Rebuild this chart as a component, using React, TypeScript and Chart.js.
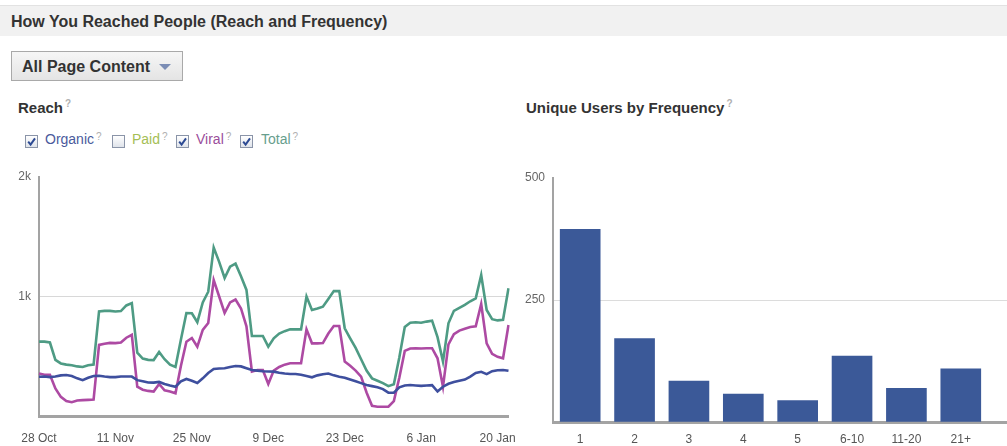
import React, { useEffect, useRef } from 'react';
import { Chart, registerables } from 'chart.js';

Chart.register(...registerables);

const FONT = '"Liberation Sans", Arial, sans-serif';

// ---- Reach (daily, starting 28 Oct) ----
const monthNames = ['Jan', 'Feb', 'Mar', 'Apr', 'May', 'Jun', 'Jul', 'Aug', 'Sep', 'Oct', 'Nov', 'Dec'];
const reachTickLabels = ['28 Oct', '11 Nov', '25 Nov', '9 Dec', '23 Dec', '6 Jan', '20 Jan'];

const organic = [
  329, 330, 325, 330, 340, 343, 335, 315, 300, 320,
  335, 337, 330, 325, 325, 330, 330, 330, 300, 290,
  280, 279, 285, 268, 255, 245, 290, 310, 295, 276,
  315, 360, 393, 398, 400, 410, 418, 415, 400, 385,
  380, 375, 372, 371, 362, 355, 352, 352, 345, 335,
  324, 340, 350, 355, 340, 329, 320, 305, 290, 275,
  260, 250, 240, 225, 195, 195, 240, 255, 259, 255,
  252, 255, 258, 205, 245, 270, 285, 295, 305, 330,
  360, 370, 350, 375, 383, 385, 378,
];

const viral = [
  355, 345, 345, 230, 160, 125, 115, 130, 133, 135,
  138, 595, 605, 612, 610, 615, 655, 680, 245, 220,
  210, 205, 268, 215, 205, 190, 420, 622, 653, 580,
  720, 778, 1138, 1000, 862, 950, 975, 900, 750, 371,
  385, 385, 268, 380, 410, 430, 441, 441, 441, 725,
  608, 608, 610, 690, 753, 753, 455, 420, 380, 330,
  197, 85, 78, 78, 78, 125, 320, 545, 565, 567,
  565, 567, 567, 483, 245, 600, 685, 715, 730, 745,
  750, 937, 608, 520, 495, 483, 762,
];

const total = [
  622, 622, 615, 470, 440, 430, 425, 415, 410, 425,
  430, 875, 880, 880, 875, 878, 925, 945, 530, 480,
  470, 468, 535, 475, 430, 410, 640, 862, 860, 785,
  950, 1040, 1410, 1290, 1155, 1250, 1275, 1170, 1055, 670,
  670, 670, 580, 650, 690, 710, 725, 725, 725, 1000,
  887, 900, 915, 980, 1045, 1045, 734, 650, 570, 475,
  380, 315, 295, 275, 250, 265, 490, 745, 780, 785,
  780, 790, 798, 660, 455, 776, 880, 905, 930, 960,
  985, 1180, 887, 810, 800, 805, 1069,
];

const dayLabels: string[] = organic.map((_, i) => {
  const d = new Date(Date.UTC(2012, 9, 28 + i));
  return `${d.getUTCDate()} ${monthNames[d.getUTCMonth()]}`;
});

// ---- Unique users by frequency ----
const freqLabels = ['1', '2', '3', '4', '5', '6-10', '11-20', '21+'];
const freqValues = [395, 171, 84, 57, 44, 135, 69, 109];

const C_ORGANIC = '#3e4f9e';
const C_VIRAL = '#ad4aa3';
const C_TOTAL = '#4e9b84';
const C_BAR = '#3b5998';

function Check({ x, y, checked }: { x: number; y: number; checked: boolean }) {
  return (
    <div
      style={{
        position: 'absolute',
        left: x,
        top: y,
        width: 11,
        height: 11,
        border: '1px solid #8a94a8',
        background: 'linear-gradient(#ffffff, #dfe3ea)',
      }}
    >
      {checked && (
        <svg width="11" height="11" style={{ position: 'absolute', left: 0, top: 0 }}>
          <path d="M2.2 5.6 L4.6 8.6 L9 2.4" stroke="#2c4a93" strokeWidth="2" fill="none" />
        </svg>
      )}
    </div>
  );
}

function Q({ top = -5 }: { top?: number }) {
  return (
    <span style={{ fontSize: 10, color: '#b0b0b0', position: 'relative', top, marginLeft: 2 }}>?</span>
  );
}

export default function App() {
  const lineRef = useRef<HTMLCanvasElement>(null);
  const barRef = useRef<HTMLCanvasElement>(null);

  useEffect(() => {
    const tickFont = { family: FONT, size: 12 };
    const lineDs = (label: string, data: number[], color: string) => ({
      label,
      data,
      borderColor: color,
      backgroundColor: color,
      borderWidth: 2.6,
      pointRadius: 0,
      tension: 0,
      fill: false,
    });

    const line = new Chart(lineRef.current!, {
      type: 'line',
      data: {
        labels: dayLabels,
        datasets: [
          lineDs('Organic', organic, C_ORGANIC),
          lineDs('Viral', viral, C_VIRAL),
          lineDs('Total', total, C_TOTAL),
        ],
      },
      options: {
        responsive: false,
        animation: false,
        layout: { padding: { top: 17, right: 11.5, left: 0, bottom: 0 } },
        plugins: { legend: { display: false }, tooltip: { enabled: false } },
        scales: {
          x: {
            type: 'category',
            grid: { display: false, drawTicks: false },
            border: { display: true, color: '#a3a3a3', width: 3 },
            ticks: {
              autoSkip: false,
              maxRotation: 0,
              padding: 15,
              color: '#555',
              font: tickFont,
              callback: (v: any) => dayLabels[v as number],
            },
            afterBuildTicks: (axis: any) => {
              axis.ticks = axis.ticks.filter((t: any) => reachTickLabels.includes(dayLabels[t.value]));
            },
            afterFit: (s: any) => {
              s.height = 30;
              s.paddingLeft = 0;
              s.paddingRight = 0;
            },
          },
          y: {
            min: 0,
            max: 2000,
            ticks: {
              stepSize: 1000,
              padding: 8,
              color: '#666',
              font: tickFont,
              callback: (v: any) => (v === 0 ? '' : `${v / 1000}k`),
            },
            grid: {
              drawTicks: false,
              color: (ctx: any) => (ctx.tick && ctx.tick.value === 1000 ? '#d8d8d8' : 'rgba(0,0,0,0)'),
            },
            border: { color: '#a3a3a3', width: 2 },
            afterFit: (s: any) => {
              s.width = 39;
            },
          },
        },
      },
    });

    const bar = new Chart(barRef.current!, {
      type: 'bar',
      data: {
        datasets: [
          {
            label: 'Unique Users',
            data: freqValues.map((v, i) => ({ x: i + 1, y: v })),
            backgroundColor: C_BAR,
            barThickness: 40,
          },
        ],
      },
      options: {
        responsive: false,
        animation: false,
        layout: { padding: { top: 18, right: 0, left: 0, bottom: 0 } },
        plugins: { legend: { display: false }, tooltip: { enabled: false } },
        scales: {
          x: {
            type: 'linear',
            min: 0.5,
            max: 8.85,
            offset: false,
            grid: { display: false, drawTicks: false, offset: false },
            border: { display: true, color: '#a3a3a3', width: 3 },
            afterBuildTicks: (axis: any) => {
              axis.ticks = freqLabels.map((_, i) => ({ value: i + 1 }));
            },
            ticks: {
              autoSkip: false,
              maxRotation: 0,
              padding: 10,
              color: '#555',
              font: tickFont,
              callback: (v: any) => freqLabels[(v as number) - 1] ?? '',
            },
            afterFit: (s: any) => {
              s.height = 24;
              s.paddingLeft = 0;
              s.paddingRight = 0;
            },
          },
          y: {
            min: 0,
            max: 500,
            ticks: {
              stepSize: 250,
              padding: 8,
              color: '#666',
              font: tickFont,
              callback: (v: any) => (v === 0 ? '' : String(v)),
            },
            grid: {
              drawTicks: false,
              color: (ctx: any) => (ctx.tick && ctx.tick.value === 250 ? '#dcdcdc' : 'rgba(0,0,0,0)'),
            },
            border: { color: '#a3a3a3', width: 2 },
            afterFit: (s: any) => {
              s.width = 53;
            },
          },
        },
      },
    });

    return () => {
      line.destroy();
      bar.destroy();
    };
  }, []);

  const legendText = (x: number, label: string, color: string) => (
    <span
      style={{
        position: 'absolute',
        left: x,
        top: 131,
        fontSize: 14,
        lineHeight: '16px',
        color,
        whiteSpace: 'nowrap',
      }}
    >
      {label}
      <Q top={-4} />
    </span>
  );

  return (
    <div
      style={{
        position: 'absolute',
        left: 0,
        top: 0,
        width: 1007,
        height: 446,
        overflow: 'hidden',
        background: '#ffffff',
        fontFamily: FONT,
      }}
    >
      <div
        style={{
          position: 'absolute',
          left: 0,
          top: 5,
          width: 1007,
          height: 31,
          boxSizing: 'border-box',
          background: '#f1f1f1',
          borderTop: '1px solid #e2e2e2',
        }}
      >
        <span
          style={{
            position: 'absolute',
            left: 11,
            top: 7,
            fontSize: 16,
            lineHeight: '18px',
            fontWeight: 'bold',
            color: '#333',
            whiteSpace: 'nowrap',
          }}
        >
          How You Reached People (Reach and Frequency)
        </span>
      </div>

      <div
        style={{
          position: 'absolute',
          left: 11,
          top: 51,
          width: 172,
          height: 30,
          boxSizing: 'border-box',
          border: '1px solid #a9a9a9',
          background: 'linear-gradient(#f6f6f6, #e4e4e4)',
        }}
      >
        <span
          style={{
            position: 'absolute',
            left: 10,
            top: 6,
            fontSize: 16,
            lineHeight: '18px',
            fontWeight: 'bold',
            color: '#333',
            whiteSpace: 'nowrap',
          }}
        >
          All Page Content
        </span>
        <div
          style={{
            position: 'absolute',
            left: 147,
            top: 12,
            width: 0,
            height: 0,
            borderLeft: '6.5px solid transparent',
            borderRight: '6.5px solid transparent',
            borderTop: '6px solid #7b8db5',
          }}
        />
      </div>

      <span
        style={{
          position: 'absolute',
          left: 18,
          top: 99,
          fontSize: 15,
          lineHeight: '17px',
          fontWeight: 'bold',
          color: '#333',
          whiteSpace: 'nowrap',
        }}
      >
        Reach
        <Q top={-6} />
      </span>

      <span
        style={{
          position: 'absolute',
          left: 526,
          top: 99,
          fontSize: 15,
          lineHeight: '17px',
          fontWeight: 'bold',
          color: '#333',
          whiteSpace: 'nowrap',
        }}
      >
        Unique Users by Frequency
        <Q top={-6} />
      </span>

      <Check x={25} y={135} checked={true} />
      {legendText(45, 'Organic', '#4a5a9c')}
      <Check x={112} y={135} checked={false} />
      {legendText(132, 'Paid', '#a5be55')}
      <Check x={176} y={135} checked={true} />
      {legendText(196, 'Viral', '#9b4d9b')}
      <Check x={240} y={135} checked={true} />
      {legendText(261, 'Total', '#679e8d')}

      <canvas
        ref={lineRef}
        width={520}
        height={286}
        style={{ position: 'absolute', left: 0, top: 160, width: 520, height: 286 }}
      />
      <canvas
        ref={barRef}
        width={507}
        height={286}
        style={{ position: 'absolute', left: 500, top: 160, width: 507, height: 286 }}
      />
    </div>
  );
}
